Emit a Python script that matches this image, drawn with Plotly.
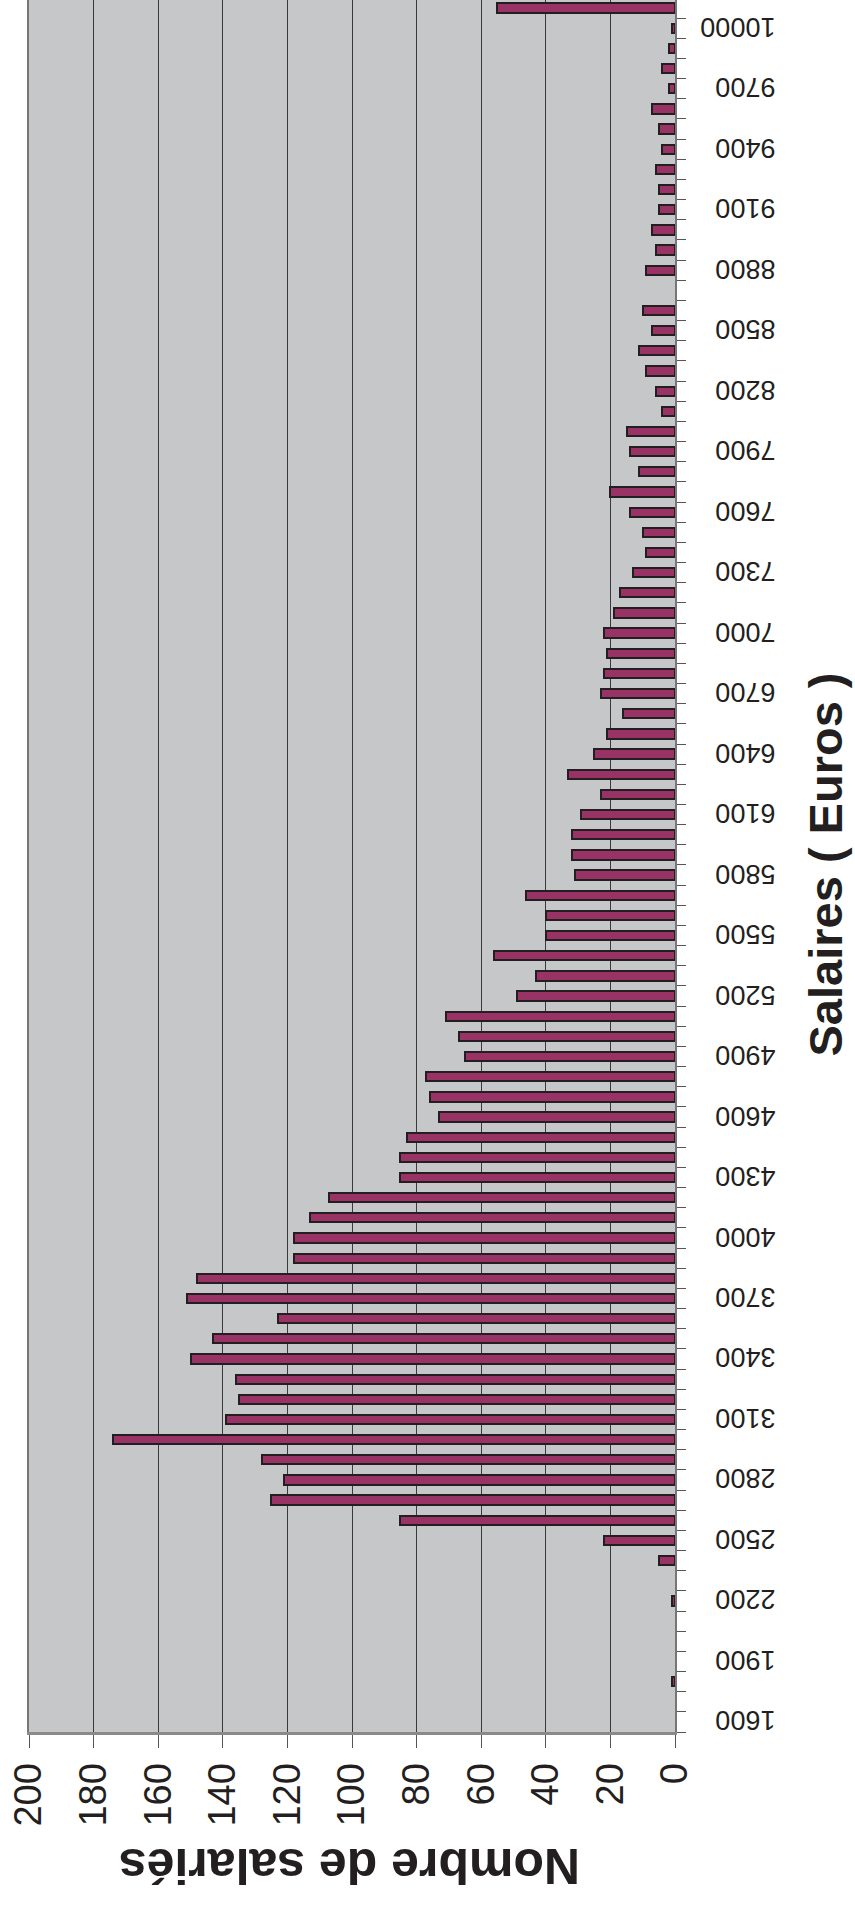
import plotly.graph_objects as go

# Salary classes (Euros), one class per 100 €, plus the last open class
salaires = list(range(1600, 10200, 100))

# Number of employees per salary class (1600 -> last class)
nombre = [
    0, 0, 1, 0, 0, 0, 1, 0, 5, 22,
    85, 125, 121, 128, 174, 139, 135, 136, 150, 143,
    123, 151, 148, 118, 118, 113, 107, 85, 85, 83,
    73, 76, 77, 65, 67, 71, 49, 43, 56, 40,
    40, 46, 31, 32, 32, 29, 23, 33, 25, 21,
    16, 23, 22, 21, 22, 19, 17, 13, 9, 10,
    14, 20, 11, 14, 15, 4, 6, 9, 11, 7,
    10, 0, 9, 6, 7, 5, 5, 6, 4, 5,
    7, 2, 4, 2, 1, 55,
]

# Tick labels on the salary axis (every third class)
tick_salaires = list(range(1600, 10001, 300))
tick_labels = [str(v) for v in tick_salaires]

value_ticks = list(range(0, 201, 20))

FONT = "Liberation Sans, Arial, sans-serif"
INK = "#231F20"

# upside-down labels render slightly above their anchor; nudge them back
LABEL_NUDGE = 35
# pad labels to 5 digit widths so the upside-down labels line up on their left side
padded = [t + "\u2007" * (5 - len(t)) for t in tick_labels]

fig = go.Figure()
fig.add_trace(go.Bar(
    x=[v if v else None for v in nombre],
    y=salaires,
    orientation="h",
    width=46,
    marker=dict(color="#993366", line=dict(color=INK, width=2)),
    hoverinfo="x+y",
))

fig.update_layout(
    width=855,
    height=1910,
    margin=dict(l=29, r=180, t=0, b=178, autoexpand=False),
    paper_bgcolor="white",
    plot_bgcolor="#C6C7C9",
    showlegend=False,
    bargap=0,
    xaxis=dict(
        range=[200, 0],
        tickvals=value_ticks,
        ticktext=[str(v) for v in value_ticks],
        tickangle=-90,
        ticks="outside",
        ticklen=13,
        tickwidth=1,
        tickcolor="#555555",
        tickfont=dict(family=FONT, size=38, color=INK),
        showgrid=True,
        gridcolor="#3a3a3a",
        gridwidth=1,
        showline=True,
        linecolor="#8a8a8a",
        linewidth=3,
        zeroline=False,
        automargin=False,
        fixedrange=True,
    ),
    yaxis=dict(
        side="right",
        range=[1550, 10140],
        tickvals=[v - LABEL_NUDGE for v in tick_salaires],
        ticktext=padded,
        tickangle=180,
        ticks="",
        ticklabelstandoff=93,
        tickfont=dict(family=FONT, size=27, color=INK),
        minor=dict(ticks="outside", ticklen=9, tickcolor="#555555",
                   tick0=1550, dtick=100, showgrid=False),
        showgrid=False,
        showline=True,
        linecolor="#777777",
        linewidth=2,
        mirror=True,
        zeroline=False,
        automargin=False,
        fixedrange=True,
    ),
    annotations=[
        dict(text="Nombre de salariés", xref="paper", yref="paper",
             x=0.497, y=-0.077, xanchor="center", yanchor="middle",
             textangle=180, showarrow=False,
             font=dict(family=FONT, size=50, color=INK, weight="bold")),
        dict(text="Salaires ( Euros )", xref="paper", yref="paper",
             x=1.233, y=0.5006, xanchor="center", yanchor="middle",
             textangle=-90, showarrow=False,
             font=dict(family=FONT, size=47, color=INK, weight="bold")),
    ],
)

fig.write_html("out.html", config={"displayModeBar": False})

# Remove the browser's default page margin so the figure starts at (0, 0)
with open("out.html", "r", encoding="utf-8") as f:
    html = f.read()
html = html.replace("<head>", "<head><style>html,body{margin:0;padding:0;}</style>", 1)
with open("out.html", "w", encoding="utf-8") as f:
    f.write(html)
